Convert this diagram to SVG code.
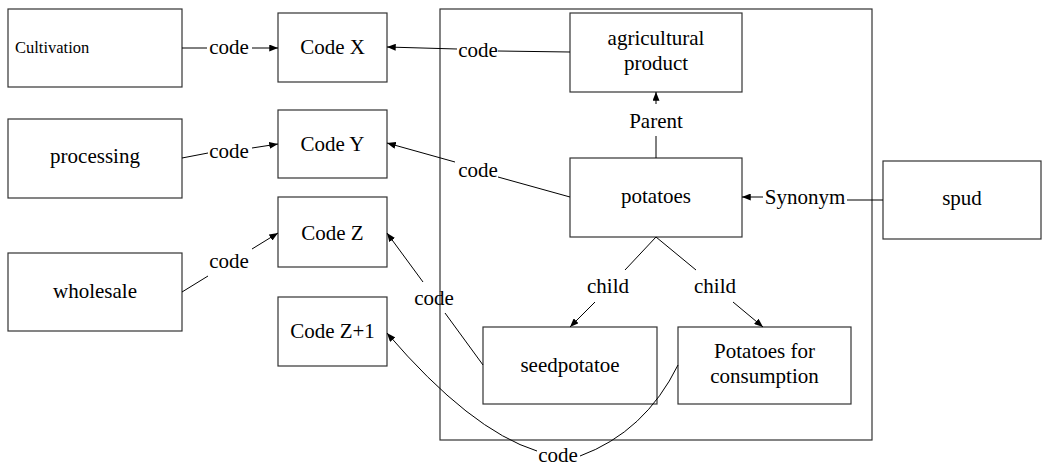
<svg xmlns="http://www.w3.org/2000/svg" width="1044" height="466" viewBox="0 0 1044 466" font-family="Liberation Serif, DejaVu Serif, serif">
  <defs>
    <marker id="arrow" viewBox="0 0 10 8" refX="10" refY="4" markerWidth="9" markerHeight="7" markerUnits="userSpaceOnUse" orient="auto">
      <path d="M0,0 L10,4 L0,8 Z" fill="#000"/>
    </marker>
    <style>
      .box { fill: #fff; stroke: #333; stroke-width: 1.2; }
      .frame { fill: none; stroke: #333; stroke-width: 1.2; }
      text { font-size: 21px; fill: #000; text-anchor: middle; }
      .small { font-size: 16.5px; text-anchor: start; }
      .edge { fill: none; stroke: #000; stroke-width: 1; }
      .arr { marker-end: url(#arrow); }
    </style>
  </defs>
  <rect width="1044" height="466" fill="#fff"/>

  <!-- enclosing frame for the product hierarchy -->
  <rect class="frame" x="440" y="9" width="432" height="431"/>

  <g id="cultivation"><rect class="box" x="8" y="9" width="174" height="78"/><text class="small" x="15" y="53">Cultivation</text></g>
  <g id="processing"><rect class="box" x="8" y="119" width="174" height="79"/><text x="95" y="163">processing</text></g>
  <g id="wholesale"><rect class="box" x="8" y="253" width="174" height="78"/><text x="95" y="298">wholesale</text></g>

  <g id="codeX"><rect class="box" x="278" y="13" width="109" height="69"/><text x="332.5" y="54">Code X</text></g>
  <g id="codeY"><rect class="box" x="278" y="110" width="109" height="68"/><text x="332.5" y="151">Code Y</text></g>
  <g id="codeZ"><rect class="box" x="278" y="197" width="109" height="70"/><text x="332.5" y="240">Code Z</text></g>
  <g id="codeZ1"><rect class="box" x="278" y="297" width="109" height="69"/><text x="332.5" y="338">Code Z+1</text></g>

  <g id="agricultural"><rect class="box" x="570" y="13" width="172" height="79"/><text x="656" y="45">agricultural</text><text x="656" y="70">product</text></g>
  <g id="potatoes"><rect class="box" x="570" y="158" width="172" height="79"/><text x="656" y="203">potatoes</text></g>
  <g id="seedpotatoe"><rect class="box" x="483" y="327" width="174" height="77"/><text x="570" y="372">seedpotatoe</text></g>
  <g id="consumption"><rect class="box" x="678" y="327" width="173" height="77"/><text x="764.5" y="358">Potatoes for</text><text x="764.5" y="383">consumption</text></g>
  <g id="spud"><rect class="box" x="883" y="161" width="158" height="78"/><text x="962" y="205">spud</text></g>

  <g id="connectors">
    <!-- external sources to codes -->
    <line class="edge" x1="182" y1="48" x2="207" y2="48"/>
    <line class="edge arr" x1="252" y1="48" x2="278" y2="48"/>
    <text x="229" y="54">code</text>

    <line class="edge" x1="182" y1="158" x2="208" y2="153"/>
    <line class="edge arr" x1="252" y1="148" x2="278" y2="144"/>
    <text x="229" y="158">code</text>

    <line class="edge" x1="182" y1="292" x2="208" y2="276"/>
    <line class="edge arr" x1="252" y1="249" x2="278" y2="233"/>
    <text x="229" y="268">code</text>

    <!-- hierarchy to codes -->
    <line class="edge" x1="570" y1="52" x2="498" y2="51"/>
    <line class="edge arr" x1="457" y1="49" x2="387" y2="47"/>
    <text x="478" y="57">code</text>

    <line class="edge" x1="570" y1="197" x2="498" y2="177"/>
    <line class="edge arr" x1="455" y1="162" x2="387" y2="143"/>
    <text x="478" y="177">code</text>

    <line class="edge" x1="483" y1="365" x2="445" y2="313"/>
    <line class="edge arr" x1="423" y1="282" x2="387" y2="233"/>
    <text x="434" y="305">code</text>

    <path class="edge" d="M678,365 Q645,432 580,456"/>
    <path class="edge arr" d="M537,451 Q470,430 387,333"/>
    <text x="558" y="462">code</text>

    <!-- parent / child / synonym -->
    <line class="edge" x1="656" y1="158" x2="656" y2="136"/>
    <line class="edge arr" x1="656" y1="104" x2="656" y2="92"/>
    <text x="656" y="128">Parent</text>

    <line class="edge" x1="656" y1="237" x2="625" y2="270"/>
    <line class="edge arr" x1="595" y1="302" x2="570" y2="327"/>
    <text x="608" y="293">child</text>

    <line class="edge" x1="656" y1="237" x2="696" y2="270"/>
    <line class="edge arr" x1="733" y1="302" x2="763" y2="327"/>
    <text x="715" y="293">child</text>

    <line class="edge" x1="883" y1="200" x2="847" y2="200"/>
    <line class="edge arr" x1="763" y1="197" x2="742" y2="197"/>
    <text x="805" y="204">Synonym</text>
  </g>
</svg>
